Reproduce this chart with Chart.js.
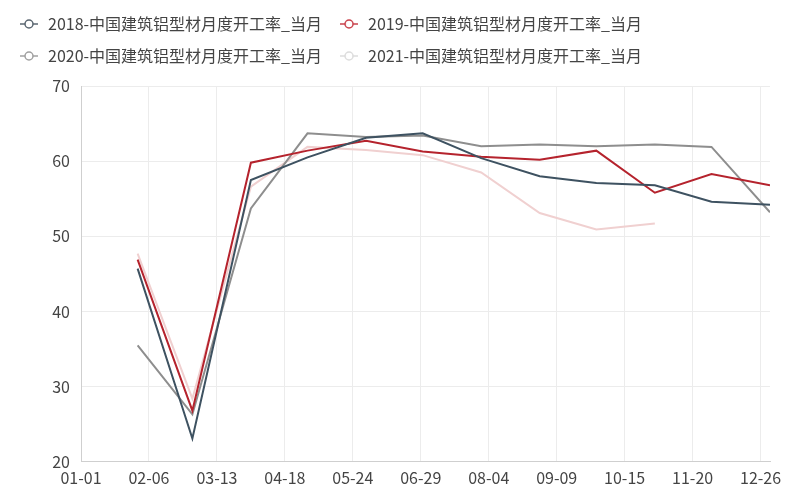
<!DOCTYPE html>
<html>
<head>
<meta charset="utf-8">
<script src="https://cdn.jsdelivr.net/npm/chart.js@4.4.1/dist/chart.umd.min.js"></script>
<style>
  html, body { margin: 0; padding: 0; background: #fff; }
  #wrap { width: 800px; height: 500px; }
</style>
</head>
<body>
<div id="wrap"><canvas id="c"></canvas></div>
<script>
// month-end dates of each reading (day of year, 2020 calendar)
const dates = ['01-31', '02-29', '03-31', '04-30', '05-31', '06-30', '07-31', '08-31', '09-30', '10-31', '11-30', '12-31'];
const tickDays = [0, 36, 72, 108, 144, 180, 216, 252, 288, 324, 360];
const tickLabels = ['01-01', '02-06', '03-13', '04-18', '05-24', '06-29', '08-04', '09-09', '10-15', '11-20', '12-26'];
const yTicks = [20, 30, 40, 50, 60, 70];

const v2018 = [45.7, 23.1, 57.5, 60.5, 63.1, 63.7, 60.4, 58.0, 57.1, 56.8, 54.6, 54.2];
const v2019 = [46.9, 26.8, 59.8, 61.4, 62.7, 61.3, 60.6, 60.2, 61.4, 55.8, 58.3, 56.8];
const v2020 = [35.5, 26.3, 53.7, 63.7, 63.2, 63.4, 62.0, 62.2, 62.0, 62.2, 61.9, 53.2];
const v2021 = [47.7, 28.4, 56.6, 61.9, 61.5, 60.8, 58.5, 53.1, 50.9, 51.7];

const names = ['2018-中国建筑铝型材月度开工率_当月', '2019-中国建筑铝型材月度开工率_当月',
               '2020-中国建筑铝型材月度开工率_当月', '2021-中国建筑铝型材月度开工率_当月'];
const colors = ['#3e5261', '#b5232d', '#8e8e8e', '#f0d0d0'];
const markColors = ['#5a6670', '#c8404a', '#a0a0a0', '#dcdcdc'];

function dayOf(s) {
  const [m, d] = s.split('-').map(Number);
  return (Date.UTC(2020, m - 1, d) - Date.UTC(2020, 0, 1)) / 864e5;
}

function series(vals) {
  return vals.map((v, i) => ({ x: dayOf(dates[i]), y: v }));
}

// legend marker: short line with a hollow circle
function marker(col) {
  const cv = document.createElement('canvas');
  cv.width = 18; cv.height = 12;
  const g = cv.getContext('2d');
  g.strokeStyle = col; g.lineWidth = 1.5;
  g.beginPath(); g.moveTo(0, 6); g.lineTo(18, 6); g.stroke();
  g.fillStyle = '#fff';
  g.beginPath(); g.arc(9, 6, 4, 0, Math.PI * 2); g.fill(); g.stroke();
  return cv;
}

// extra space under the legend
const legendGap = {
  id: 'legendGap',
  beforeInit(chart) {
    const fit = chart.legend.fit;
    chart.legend.fit = function () {
      fit.call(this);
      this.height += 12;
    };
  }
};

const font = "'Noto Sans CJK SC', 'Noto Sans', sans-serif";
const allVals = [v2018, v2019, v2020, v2021];

new Chart(document.getElementById('c'), {
  type: 'line',
  plugins: [legendGap],
  data: {
    datasets: allVals.map((vals, i) => ({
      label: names[i],
      data: series(vals),
      borderColor: colors[i],
      backgroundColor: colors[i],
      borderWidth: 2,
      pointRadius: 0,
      tension: 0
    }))
  },
  options: {
    responsive: true,
    maintainAspectRatio: false,
    animation: false,
    layout: { padding: { left: 2, right: 30, top: 0, bottom: 5 } },
    plugins: {
      tooltip: { enabled: false },
      legend: {
        position: 'top',
        align: 'start',
        labels: {
          usePointStyle: true,
          pointStyleWidth: 22,
          padding: 16,
          color: '#444',
          font: { family: font, size: 16 },
          generateLabels: function (chart) {
            const items = Chart.defaults.plugins.legend.labels.generateLabels(chart);
            items.forEach(it => { it.pointStyle = marker(markColors[it.datasetIndex]); });
            return items;
          }
        }
      }
    },
    scales: {
      x: {
        type: 'linear',
        min: 0,
        max: 365,
        afterBuildTicks: function (scale) {
          scale.ticks = tickDays.map(v => ({ value: v }));
        },
        ticks: {
          color: '#444',
          font: { family: font, size: 16 },
          padding: 7,
          maxRotation: 0,
          autoSkip: false,
          callback: function (value) {
            const k = tickDays.indexOf(value);
            return k >= 0 ? tickLabels[k] : '';
          }
        },
        grid: { color: '#ececec', drawTicks: false },
        border: { color: '#cfcfcf' }
      },
      y: {
        min: 20,
        max: 70,
        afterBuildTicks: function (scale) {
          scale.ticks = yTicks.map(v => ({ value: v }));
        },
        afterFit: function (scale) { scale.width = 79; },
        ticks: {
          color: '#444',
          font: { family: font, size: 16 },
          padding: 11
        },
        grid: { color: '#ececec', drawTicks: false },
        border: { color: '#cfcfcf' }
      }
    }
  }
});
</script>
</body>
</html>
